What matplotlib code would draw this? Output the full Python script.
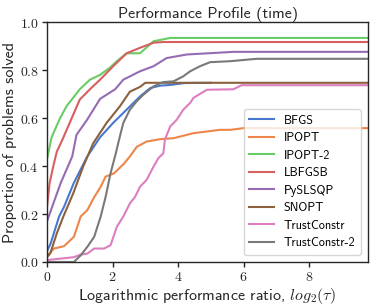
import matplotlib
matplotlib.use("Agg")
import matplotlib.pyplot as plt
from matplotlib.ticker import FuncFormatter

plt.rcParams['mathtext.fontset'] = 'cm'
plt.rcParams['font.family'] = ['cmss10', 'DejaVu Sans']
plt.rcParams['axes.unicode_minus'] = False

solvers = ["BFGS", "IPOPT", "IPOPT-2", "LBFGSB", "PySLSQP", "SNOPT", "TrustConstr", "TrustConstr-2"]
colors = ["#4878d0", "#ee854a", "#6acc64", "#d65f5f", "#956cb4", "#8c613c", "#dc7ec0", "#797979"]

x_max = 9.8

bfgs_x = [0, 0.11, 0.37, 0.52, 0.82, 1.23, 1.62, 2.02, 2.43, 2.84, 3.15, 3.45, 3.76, 4.2, 5.0]
bfgs_y = [0.045, 0.077, 0.19, 0.23, 0.33, 0.44, 0.52, 0.58, 0.635, 0.69, 0.725, 0.735, 0.738, 0.746, 0.747]

ipopt_x = [0, 0.21, 0.52, 0.82, 1.03, 1.23, 1.44, 1.64, 1.79, 2.05, 2.35, 2.53, 2.74, 3.04, 3.45, 3.86, 4.27, 4.47, 4.88, 5.28, 5.6, 6.0, 9.8]
ipopt_y = [0.025, 0.056, 0.066, 0.105, 0.19, 0.216, 0.27, 0.314, 0.356, 0.37, 0.41, 0.44, 0.48, 0.502, 0.512, 0.516, 0.53, 0.537, 0.544, 0.551, 0.551, 0.558, 0.558]

ipopt2_x = [0, 0.14, 0.4, 0.6, 1.0, 1.31, 1.62, 1.92, 2.13, 2.43, 2.84, 3.25, 3.76, 9.8]
ipopt2_y = [0.43, 0.52, 0.60, 0.65, 0.72, 0.76, 0.78, 0.81, 0.837, 0.87, 0.87, 0.92, 0.934, 0.934]

lbfgsb_x = [0, 0.08, 0.21, 0.3, 0.47, 1.0, 1.31, 1.62, 2.02, 2.43, 2.84, 3.25, 3.55, 9.8]
lbfgsb_y = [0.23, 0.33, 0.41, 0.46, 0.51, 0.677, 0.72, 0.76, 0.816, 0.87, 0.893, 0.914, 0.917, 0.917]

pyslsqp_x = [0, 0.42, 0.77, 0.9, 1.21, 1.62, 2.08, 2.33, 2.84, 3.25, 3.65, 4.27, 5.7, 9.8]
pyslsqp_y = [0.17, 0.33, 0.44, 0.53, 0.59, 0.68, 0.72, 0.76, 0.795, 0.816, 0.85, 0.865, 0.876, 0.876]

snopt_x = [0, 0.1, 0.3, 0.5, 0.8, 1.11, 1.41, 1.82, 2.23, 2.53, 2.84, 3.0, 9.8]
snopt_y = [0.02, 0.036, 0.12, 0.19, 0.286, 0.40, 0.495, 0.58, 0.65, 0.71, 0.73, 0.747, 0.747]

tc_x = [0, 0.82, 1.03, 1.23, 1.44, 1.74, 1.94, 2.13, 2.33, 2.53, 2.69, 2.84, 3.04, 3.25, 3.4, 3.55, 3.6, 3.76, 3.96, 4.16, 4.37, 4.47, 4.88, 5.69, 5.94, 9.8]
tc_y = [0.008, 0.02, 0.031, 0.035, 0.056, 0.056, 0.07, 0.146, 0.19, 0.244, 0.272, 0.314, 0.342, 0.397, 0.433, 0.453, 0.51, 0.565, 0.593, 0.635, 0.663, 0.684, 0.718, 0.72, 0.737, 0.737]

tc2_x = [0, 0.82, 1.03, 1.23, 1.44, 1.64, 1.79, 1.94, 2.1, 2.2, 2.33, 2.53, 2.74, 2.94, 3.25, 3.55, 3.86, 4.16, 4.37, 4.67, 4.98, 5.59, 6.4, 9.8]
tc2_y = [0.0, 0.0, 0.028, 0.063, 0.105, 0.19, 0.272, 0.37, 0.453, 0.51, 0.58, 0.635, 0.67, 0.697, 0.732, 0.75, 0.753, 0.774, 0.795, 0.816, 0.833, 0.837, 0.847, 0.847]

series = [(bfgs_x, bfgs_y), (ipopt_x, ipopt_y), (ipopt2_x, ipopt2_y), (lbfgsb_x, lbfgsb_y),
          (pyslsqp_x, pyslsqp_y), (snopt_x, snopt_y), (tc_x, tc_y), (tc2_x, tc2_y)]

x_ticks = [0, 2, 4, 6, 8]
y_ticks = [0.0, 0.2, 0.4, 0.6, 0.8, 1.0]

fig = plt.figure(figsize=(3.74, 3.07), dpi=100)
ax = fig.add_axes([0.1257, 0.1466, 0.8583, 0.7814])
for (xs, ys), name, c in zip(series, solvers, colors):
    ax.plot(xs, ys, color=c, lw=1.5, label=name)

ax.set_xlim(0, x_max)
ax.set_ylim(0, 1.0)
ax.set_xticks(x_ticks)
ax.set_yticks(y_ticks)
ax.xaxis.set_major_formatter(FuncFormatter(lambda v, p: r"$%d$" % v))
ax.yaxis.set_major_formatter(FuncFormatter(lambda v, p: r"$%.1f$" % v))
ax.tick_params(axis='both', labelsize=10, length=3.5, width=1, direction='out', colors='#262626', pad=2.5)
for s in ax.spines.values():
    s.set_color('#262626')
    s.set_linewidth(1.0)

ax.set_title("Performance Profile (time)", fontsize=11.5, pad=2, color='#262626')
ax.set_xlabel(r"Logarithmic performance ratio, $log_2(\tau)$", fontsize=11.5, labelpad=1, color='#262626')
ax.set_ylabel("Proportion of problems solved", fontsize=11.5, labelpad=2, color='#262626')

leg = ax.legend(loc='lower right', fontsize=8.8, frameon=True, handlelength=2.0,
                borderpad=0.45, labelspacing=0.45, handletextpad=0.8, borderaxespad=0.6)
leg.get_frame().set_edgecolor('#cccccc')

fig.savefig("out.png", dpi=100)
